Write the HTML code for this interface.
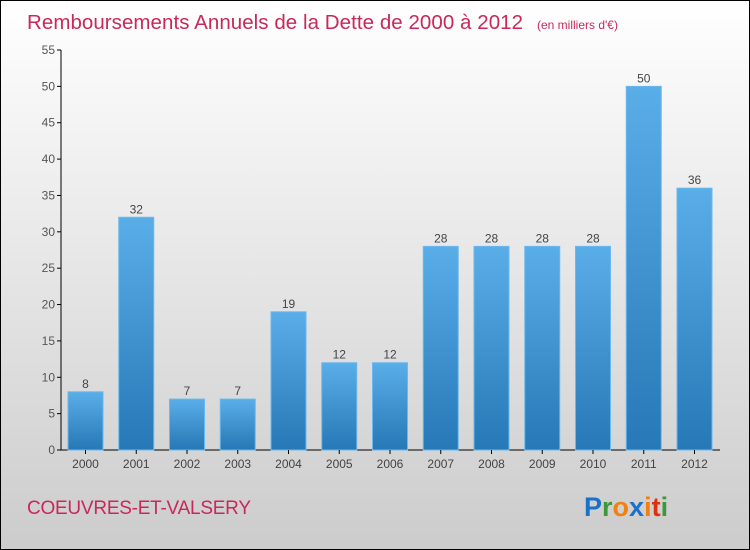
<!DOCTYPE html>
<html><head><meta charset="utf-8"><style>
body{margin:0}
#c{width:750px;height:550px;position:relative;box-sizing:border-box;border:1px solid #000;background:linear-gradient(#fff,#ccc);font-family:"Liberation Sans",sans-serif;overflow:hidden}
</style></head><body>
<div id="c">
<svg width="748" height="548">
<defs><linearGradient id="bg" x1="0" y1="0" x2="0" y2="1"><stop offset="0" stop-color="#5aaee8"/><stop offset="1" stop-color="#2678b6"/></linearGradient></defs>
<text x="26" y="28" font-size="20.5" fill="#c8285a" textLength="496">Remboursements Annuels de la Dette de 2000 à 2012</text>
<text x="536" y="28" font-size="12" fill="#c8285a">(en milliers d'€)</text>
<g id="yax"></g><g id="bars"></g>
<text x="26" y="513" font-size="19" fill="#c8285a" textLength="224">COEUVRES-ET-VALSERY</text>
<text x="583" y="515" font-size="27" font-weight="bold"><tspan fill="#1a72c8">P</tspan><tspan fill="#3a9a3a">r</tspan><tspan fill="#f08010">o</tspan><tspan fill="#1a72c8">x</tspan><tspan fill="#f08010">i</tspan><tspan fill="#e03010">t</tspan><tspan fill="#3a9a3a">i</tspan></text>
</svg></div>
<script>
const years=["2000","2001","2002","2003","2004","2005","2006","2007","2008","2009","2010","2011","2012"];
const values=[8,32,7,7,19,12,12,28,28,28,28,50,36];
const yTicks=[0,5,10,15,20,25,30,35,40,45,50,55];
const ns="http://www.w3.org/2000/svg";
const y=v=>449-v*400/55, x=i=>84.5+i*50.75;
function mk(t,a,p){const e=document.createElementNS(ns,t);for(const k in a)e.setAttribute(k,a[k]);p.appendChild(e);return e;}
const ya=document.getElementById('yax'), bg=document.getElementById('bars');
let l=mk('line',{x1:60,x2:60,y1:y(55),y2:449,stroke:'#000'},ya);


l=mk('line',{x1:60,x2:719,y1:449,y2:449,stroke:'#000'},ya);


yTicks.forEach(v=>{
 mk('line',{x1:56,x2:60,y1:y(v),y2:y(v),stroke:'#000'},ya);
 const t=mk('text',{x:54,y:y(v)+4,'font-size':12,fill:'#555','text-anchor':'end'},ya);t.textContent=v;
 
 
});
years.forEach((yr,i)=>{
 const r=mk('rect',{x:x(i)-17.5,y:y(values[i]),width:35,height:449-y(values[i]),fill:'url(#bg)',stroke:'#6ab8ee','stroke-width':1},bg);
 
 
 mk('line',{x1:x(i),x2:x(i),y1:449,y2:453,stroke:'#000'},bg);
 const t=mk('text',{x:x(i),y:467,'font-size':12,fill:'#444','text-anchor':'middle'},bg);t.textContent=yr;
 
 
 const v=mk('text',{x:x(i),y:y(values[i])-4,'font-size':12,fill:'#444','text-anchor':'middle'},bg);v.textContent=values[i];
 
 
});
</script>
</body></html>
